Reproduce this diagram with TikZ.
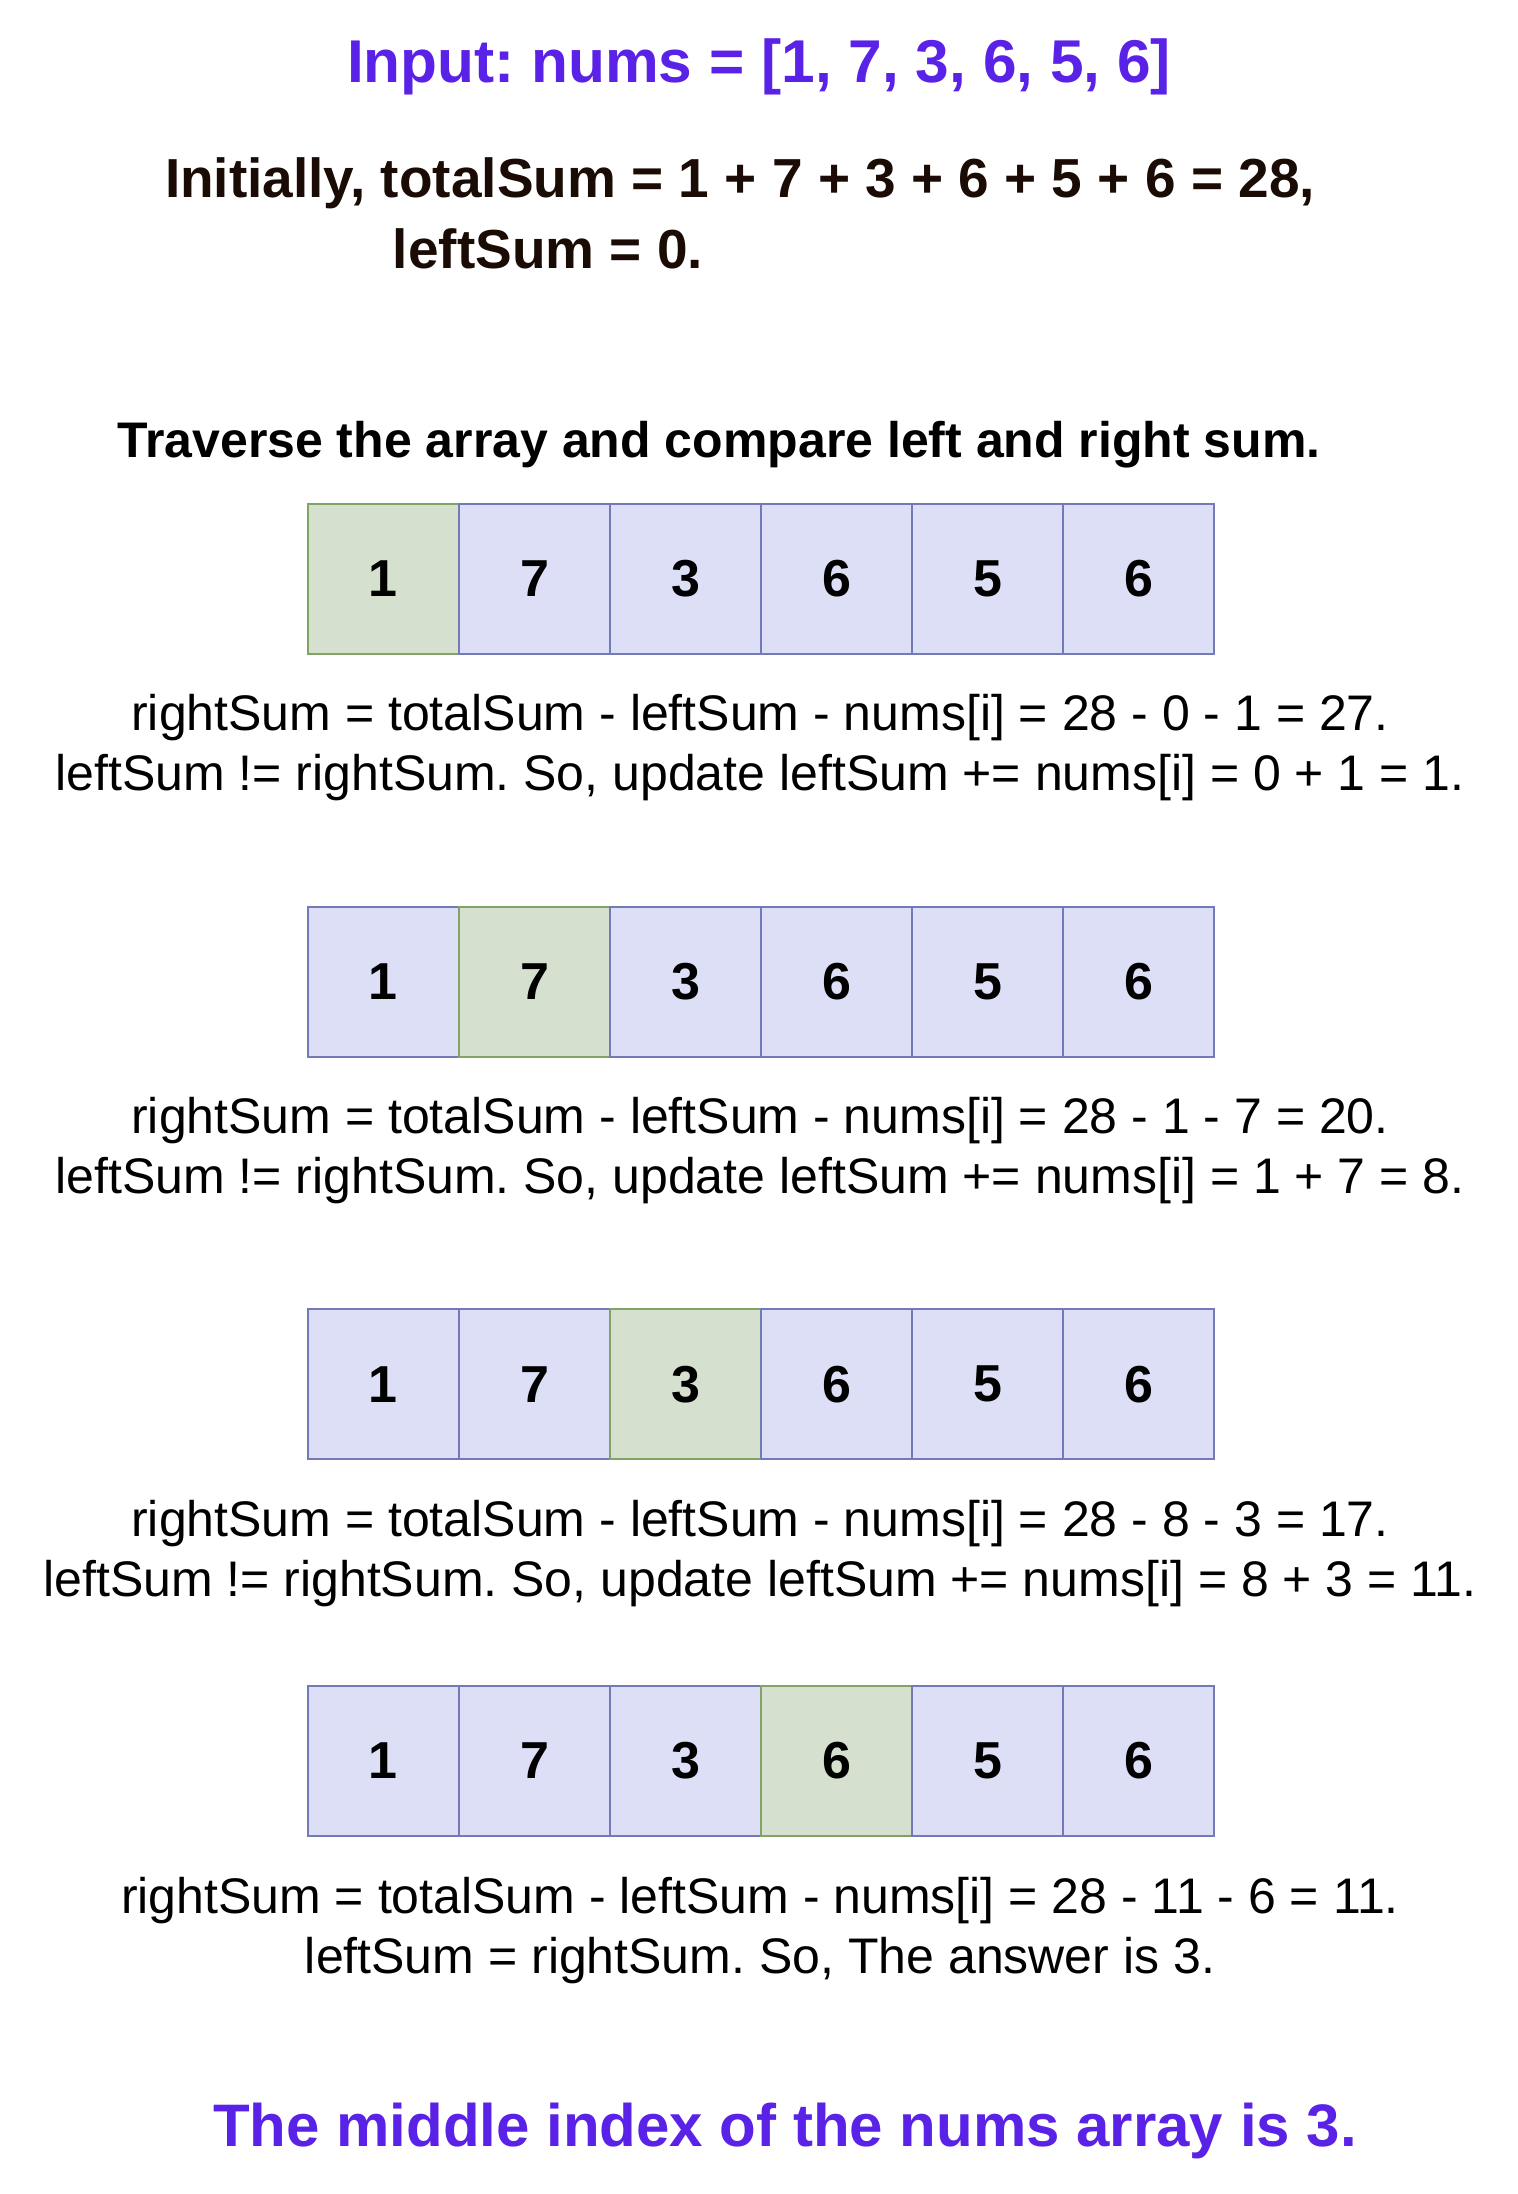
\documentclass[tikz,border=0pt]{standalone}
\usepackage{fontspec}
\setmainfont{Liberation Sans}
\usetikzlibrary{positioning}
\frenchspacing

\definecolor{titlePurple}{HTML}{5A22E6}
\definecolor{darkBrown}{HTML}{1A0C05}
\definecolor{cellBlue}{HTML}{DCDFF5}
\definecolor{cellBlueLine}{HTML}{7479B8}
\definecolor{cellGreen}{HTML}{D5E0CF}
\definecolor{cellGreenLine}{HTML}{82A366}

\begin{document}
\begin{tikzpicture}[
    x=0.5pt, y=-0.5pt,
    cell/.style={rectangle, draw=cellBlueLine, fill=cellBlue, line width=1pt,
                 minimum width=75.5pt, minimum height=75pt, inner sep=0pt,
                 font=\fontsize{26}{30}\selectfont\bfseries},
    heading/.style={font=\fontsize{30.2}{36}\selectfont\bfseries, text=titlePurple},
    intro/.style={font=\fontsize{27.5}{33}\selectfont\bfseries, text=darkBrown},
    calc/.style={align=center, font=\fontsize{25}{30}\selectfont}
]

    % Page
    \useasboundingbox (0, 0) rectangle (1518, 2194);

    % Input
    \node[heading] (input) at (759, 67) {Input: nums = [1, 7, 3, 6, 5, 6]};

    % Initial sums
    \node[intro] (init) at (740, 183) {Initially, totalSum = 1 + 7 + 3 + 6 + 5 + 6 = 28,};
    \node[intro] (initb) at (548, 249) {leftSum = 0.};

    % Traverse
    \node[font=\fontsize{25}{30}\selectfont\bfseries] (traverse) at (719, 445)
        {Traverse the array and compare left and right sum.};

    % Arrays, one per step
    \foreach \r/\yc/\hl in {1/578.5/1, 2/981.5/2, 3/1384.3/3, 4/1761/4} {
        \foreach \v [count=\i] in {1, 7, 3, 6, 5, 6} {
            \ifnum\i=\hl
                \def\cf{cellGreen}\def\cd{cellGreenLine}
            \else
                \def\cf{cellBlue}\def\cd{cellBlueLine}
            \fi
            \node[cell, fill=\cf, draw=\cd] (c\r-\i) at ({383.4+151.1*(\i-1)}, \yc) {\v};
        }
    }

    % Steps
    \node[calc] (calc1) at (760, 748) {rightSum = totalSum - leftSum - nums[i] = 28 - 0 - 1 = 27.\\
        leftSum != rightSum. So, update leftSum += nums[i] = 0 + 1 = 1.};
    \node[calc] (calc2) at (760, 1150.5) {rightSum = totalSum - leftSum - nums[i] = 28 - 1 - 7 = 20.\\
        leftSum != rightSum. So, update leftSum += nums[i] = 1 + 7 = 8.};
    \node[calc] (calc3) at (760, 1553.5) {rightSum = totalSum - leftSum - nums[i] = 28 - 8 - 3 = 17.\\
        leftSum != rightSum. So, update leftSum += nums[i] = 8 + 3 = 11.};
    \node[calc] (calc4) at (760, 1930.5) {rightSum = totalSum - leftSum - nums[i] = 28 - 11 - 6 = 11.\\
        leftSum = rightSum. So, The answer is 3.};

    % Answer
    \node[heading, font=\fontsize{30}{36}\selectfont\bfseries] (answer) at (785, 2131)
        {The middle index of the nums array is 3.};

\end{tikzpicture}
\end{document}
